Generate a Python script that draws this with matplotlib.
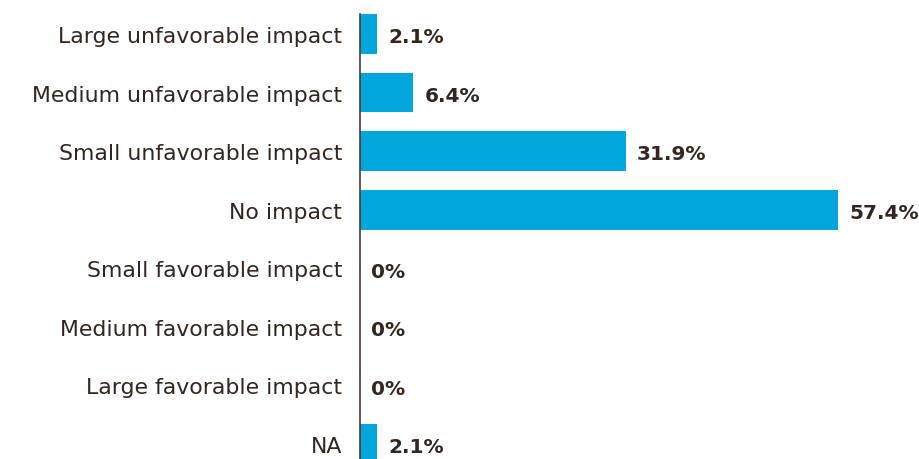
import matplotlib.pyplot as plt

categories = ["Large unfavorable impact", "Medium unfavorable impact",
              "Small unfavorable impact", "No impact", "Small favorable impact",
              "Medium favorable impact", "Large favorable impact", "NA"]
values = [2.1, 6.4, 31.9, 57.4, 0, 0, 0, 2.1]
value_labels = ["2.1%", "6.4%", "31.9%", "57.4%", "0%", "0%", "0%", "2.1%"]

bar_color = "#00a6dc"
text_color = "#33261f"

fig = plt.figure(figsize=(9.2, 4.6), dpi=100)
ax = fig.add_axes([360 / 920, 0, 560 / 920, 1 - 15 / 460])

y = list(range(len(categories)))
ax.barh(y, values, height=0.68, color=bar_color, zorder=2)

ax.set_ylim(7.256, -0.34)
ax.set_xlim(0, 67.2)

for yi, v, lab in zip(y, values, value_labels):
    ax.annotate(lab, (v, yi), xytext=(8, -2), textcoords="offset points",
                va="center", ha="left", fontsize=14.5, fontweight="bold",
                color=text_color)

ax.set_yticks(y)
ax.set_yticklabels(categories, fontsize=15.8, color=text_color)
ax.tick_params(axis="y", length=0, pad=13)
ax.set_xticks([])

for s in ["top", "right", "bottom"]:
    ax.spines[s].set_visible(False)
ax.spines["left"].set_color("#4a3c36")
ax.spines["left"].set_linewidth(1.2)
ax.spines["left"].set_zorder(3)

fig.savefig("out.png", dpi=100)
